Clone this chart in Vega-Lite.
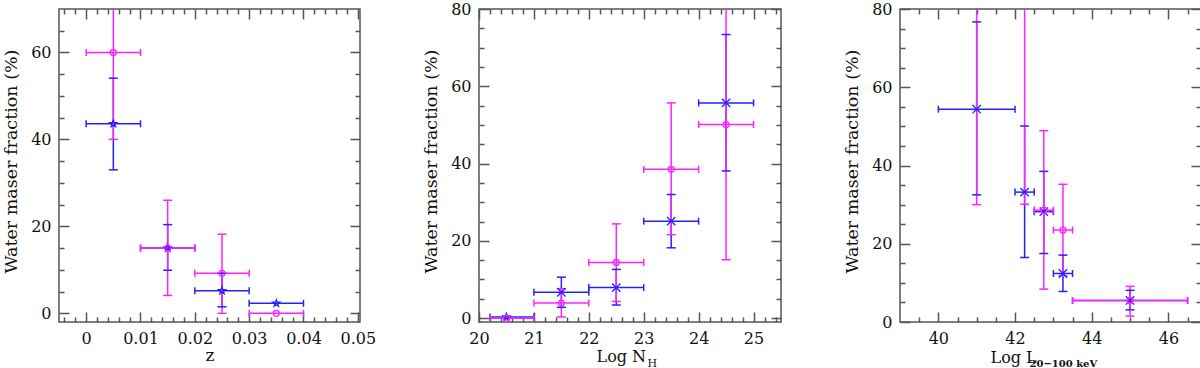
{
"$schema": "https://vega.github.io/schema/vega-lite/v6.json",
"autosize": {"type": "pad"},
"padding": {"left": 1, "top": 0, "right": 0, "bottom": 0},
"bounds": "flush",
"spacing": 119,
"background": "white",
"config": {
  "view": {"stroke": "#555", "strokeWidth": 1.5},
  "axis": {"domain": false, "grid": false, "tickColor": "#555", "tickWidth": 1.5, "labelFont": "DejaVu Serif", "labelFontSize": 16, "labelColor": "#111", "titleFont": "DejaVu Serif", "titleFontWeight": "normal", "titleColor": "#111", "labelFlush": false, "labelOverlap": false}
},
"datasets": {
  "p1": [
    {"series":"blue","marker":"star","x":0.005,"xlo":0,"xhi":0.01,"y":43.6,"ylo":33.0,"yhi":54.1},
    {"series":"blue","marker":"star","x":0.015,"xlo":0.01,"xhi":0.02,"y":15.0,"ylo":9.9,"yhi":20.4},
    {"series":"blue","marker":"star","x":0.025,"xlo":0.02,"xhi":0.03,"y":5.2,"ylo":1.5,"yhi":9.2},
    {"series":"blue","marker":"star","x":0.035,"xlo":0.03,"xhi":0.04,"y":2.3,"ylo":null,"yhi":null},
    {"series":"magenta","marker":"o","x":0.005,"xlo":0,"xhi":0.01,"y":60,"ylo":40,"yhi":78},
    {"series":"magenta","marker":"o","x":0.015,"xlo":0.01,"xhi":0.02,"y":15.0,"ylo":4.1,"yhi":26.0},
    {"series":"magenta","marker":"o","x":0.025,"xlo":0.02,"xhi":0.03,"y":9.2,"ylo":0,"yhi":18.2},
    {"series":"magenta","marker":"o","x":0.035,"xlo":0.03,"xhi":0.04,"y":0,"ylo":null,"yhi":null}
  ],
  "p2": [
    {"series":"blue","marker":"star","x":20.5,"xlo":20.2,"xhi":21,"y":0.3,"ylo":null,"yhi":null},
    {"series":"blue","marker":"x","x":21.5,"xlo":21,"xhi":22,"y":6.7,"ylo":2.8,"yhi":10.6},
    {"series":"blue","marker":"x","x":22.5,"xlo":22,"xhi":23,"y":7.9,"ylo":3.4,"yhi":12.6},
    {"series":"blue","marker":"x","x":23.5,"xlo":23,"xhi":24,"y":25.1,"ylo":18.2,"yhi":32.0},
    {"series":"blue","marker":"x","x":24.5,"xlo":24,"xhi":25,"y":55.7,"ylo":38.1,"yhi":73.4},
    {"series":"magenta","marker":"o","x":20.5,"xlo":20.2,"xhi":21,"y":0,"ylo":null,"yhi":null},
    {"series":"magenta","marker":"o","x":21.5,"xlo":21,"xhi":22,"y":3.9,"ylo":0.3,"yhi":7.6},
    {"series":"magenta","marker":"o","x":22.5,"xlo":22,"xhi":23,"y":14.4,"ylo":4.3,"yhi":24.4},
    {"series":"magenta","marker":"o","x":23.5,"xlo":23,"xhi":24,"y":38.5,"ylo":21.6,"yhi":55.7},
    {"series":"magenta","marker":"o","x":24.5,"xlo":24,"xhi":25,"y":50.1,"ylo":15.1,"yhi":90}
  ],
  "p3": [
    {"series":"blue","marker":"x","x":41,"xlo":40,"xhi":42,"y":54.4,"ylo":32.5,"yhi":76.7},
    {"series":"blue","marker":"x","x":42.25,"xlo":42,"xhi":42.5,"y":33.2,"ylo":16.5,"yhi":50.1},
    {"series":"blue","marker":"x","x":42.75,"xlo":42.5,"xhi":43,"y":28.2,"ylo":17.5,"yhi":38.5},
    {"series":"blue","marker":"x","x":43.25,"xlo":43,"xhi":43.5,"y":12.4,"ylo":7.8,"yhi":17.1},
    {"series":"blue","marker":"x","x":45,"xlo":43.5,"xhi":46.5,"y":5.5,"ylo":3.1,"yhi":8.1},
    {"series":"magenta","marker":"o","x":41,"xlo":40,"xhi":42,"y":100,"ylo":30.0,"yhi":100},
    {"series":"magenta","marker":"o","x":42.25,"xlo":42,"xhi":42.5,"y":100,"ylo":30.1,"yhi":100},
    {"series":"magenta","marker":"o","x":42.75,"xlo":42.5,"xhi":43,"y":28.6,"ylo":8.4,"yhi":48.9},
    {"series":"magenta","marker":"o","x":43.25,"xlo":43,"xhi":43.5,"y":23.5,"ylo":11.8,"yhi":35.2},
    {"series":"magenta","marker":"o","x":45,"xlo":43.5,"xhi":46.5,"y":5.5,"ylo":1.5,"yhi":9.1}
  ]
},
"hconcat": [
{
  "width": 301, "height": 313,
  "data": {"name": "p1"},
  "resolve": {"axis": {"x": "independent", "y": "independent"}},
  "layer": [
    {"mark": {"type": "rule", "strokeWidth": 1.5, "clip": true},
     "encoding": {
       "x": {"field": "xlo", "type": "quantitative", "scale": {"domain": [-0.005, 0.0504], "nice": false, "zero": false},
             "axis": {"orient": "bottom", "values": [0, 0.01, 0.02, 0.03, 0.04, 0.05], "format": "~g", "ticks": false, "labelPadding": 8, "title": "z", "titleFontSize": 17, "titleX": 150.5, "titleY": 38.5, "titleAlign": "center", "titleBaseline": "alphabetic"}},
       "x2": {"field": "xhi"},
       "y": {"field": "y", "type": "quantitative", "scale": {"domain": [-2, 70], "nice": false, "zero": false},
             "axis": {"orient": "left", "values": [0, 20, 40, 60], "ticks": false, "labelPadding": 8, "title": "Water maser fraction (%)", "titleFontSize": 17.5, "titleX": -42.5, "titleY": 152, "titleAngle": -90, "titleAlign": "center", "titleBaseline": "alphabetic"}},
       "color": {"field": "series", "type": "nominal", "scale": {"domain": ["blue", "magenta"], "range": ["#2222ff", "#ff22ff"]}, "legend": null}
     }},
    {"mark": {"type": "rule", "strokeWidth": 1.5, "clip": true},
     "encoding": {
       "x": {"field": "x", "type": "quantitative", "scale": {"domain": [-0.005, 0.0504], "nice": false, "zero": false},
             "axis": {"orient": "bottom", "values": [0, 0.01, 0.02, 0.03, 0.04, 0.05], "labels": false, "tickSize": -10, "title": null}},
       "y": {"field": "ylo", "type": "quantitative", "scale": {"domain": [-2, 70], "nice": false, "zero": false},
             "axis": {"orient": "left", "values": [0, 20, 40, 60], "labels": false, "tickSize": -10, "title": null}},
       "y2": {"field": "yhi"},
       "color": {"field": "series", "type": "nominal", "scale": {"domain": ["blue", "magenta"], "range": ["#2222ff", "#ff22ff"]}, "legend": null}
     }},
    {"mark": {"type": "tick", "orient": "vertical", "size": 7, "thickness": 1.5, "opacity": 1, "clip": true},
     "encoding": {
       "x": {"field": "xlo", "type": "quantitative", "scale": {"domain": [-0.005, 0.0504], "nice": false, "zero": false},
             "axis": {"orient": "top", "values": [0, 0.01, 0.02, 0.03, 0.04, 0.05], "labels": false, "tickSize": -10, "title": null}},
       "y": {"field": "y", "type": "quantitative", "scale": {"domain": [-2, 70], "nice": false, "zero": false},
             "axis": {"orient": "right", "values": [0, 20, 40, 60], "labels": false, "tickSize": -10, "title": null}},
       "color": {"field": "series", "type": "nominal", "scale": {"domain": ["blue", "magenta"], "range": ["#2222ff", "#ff22ff"]}, "legend": null}
     }},
    {"mark": {"type": "tick", "orient": "vertical", "size": 7, "thickness": 1.5, "opacity": 1, "clip": true},
     "encoding": {
       "x": {"field": "xhi", "type": "quantitative", "scale": {"domain": [-0.005, 0.0504], "nice": false, "zero": false},
             "axis": {"orient": "bottom", "values": [-0.004, -0.002, 0.002, 0.004, 0.006, 0.008, 0.012, 0.014, 0.016, 0.018, 0.022, 0.024, 0.026, 0.028, 0.032, 0.034, 0.036, 0.038, 0.042, 0.044, 0.046, 0.048], "labels": false, "tickSize": -5, "title": null}},
       "y": {"field": "y", "type": "quantitative", "scale": {"domain": [-2, 70], "nice": false, "zero": false},
             "axis": {"orient": "left", "values": [5, 10, 15, 25, 30, 35, 45, 50, 55, 65], "labels": false, "tickSize": -5, "title": null}},
       "color": {"field": "series", "type": "nominal", "scale": {"domain": ["blue", "magenta"], "range": ["#2222ff", "#ff22ff"]}, "legend": null}
     }},
    {"mark": {"type": "tick", "orient": "horizontal", "size": 9, "thickness": 1.5, "opacity": 1, "clip": true},
     "encoding": {
       "x": {"field": "x", "type": "quantitative", "scale": {"domain": [-0.005, 0.0504], "nice": false, "zero": false},
             "axis": {"orient": "top", "values": [-0.004, -0.002, 0.002, 0.004, 0.006, 0.008, 0.012, 0.014, 0.016, 0.018, 0.022, 0.024, 0.026, 0.028, 0.032, 0.034, 0.036, 0.038, 0.042, 0.044, 0.046, 0.048], "labels": false, "tickSize": -5, "title": null}},
       "y": {"field": "ylo", "type": "quantitative", "scale": {"domain": [-2, 70], "nice": false, "zero": false},
             "axis": {"orient": "right", "values": [5, 10, 15, 25, 30, 35, 45, 50, 55, 65], "labels": false, "tickSize": -5, "title": null}},
       "color": {"field": "series", "type": "nominal", "scale": {"domain": ["blue", "magenta"], "range": ["#2222ff", "#ff22ff"]}, "legend": null}
     }},
    {"mark": {"type": "tick", "orient": "horizontal", "size": 9, "thickness": 1.5, "opacity": 1, "clip": true},
     "encoding": {
       "x": {"field": "x", "type": "quantitative", "scale": {"domain": [-0.005, 0.0504], "nice": false, "zero": false}, "axis": null},
       "y": {"field": "yhi", "type": "quantitative", "scale": {"domain": [-2, 70], "nice": false, "zero": false}, "axis": null},
       "color": {"field": "series", "type": "nominal", "scale": {"domain": ["blue", "magenta"], "range": ["#2222ff", "#ff22ff"]}, "legend": null}
     }},
    {"mark": {"type": "point", "filled": false, "strokeWidth": 1.3, "opacity": 1, "clip": true},
     "encoding": {
       "x": {"field": "x", "type": "quantitative", "scale": {"domain": [-0.005, 0.0504], "nice": false, "zero": false}, "axis": null},
       "y": {"field": "y", "type": "quantitative", "scale": {"domain": [-2, 70], "nice": false, "zero": false}, "axis": null},
       "color": {"field": "series", "type": "nominal", "scale": {"domain": ["blue", "magenta"], "range": ["#2222ff", "#ff22ff"]}, "legend": null},
       "shape": {"field": "marker", "type": "nominal", "scale": {"domain": ["o", "star", "x"], "range": ["circle", "M0,-1L0.235,-0.324L0.951,-0.309L0.38,0.124L0.588,0.809L0,0.4L-0.588,0.809L-0.38,0.124L-0.951,-0.309L-0.235,-0.324Z", "M-1,-1L1,1M-1,1L1,-1"]}, "legend": null},
       "size": {"field": "marker", "type": "ordinal", "scale": {"domain": ["o", "star", "x"], "range": [36, 70, 60]}, "legend": null}
     }}
  ]
},
{
  "width": 302, "height": 313,
  "data": {"name": "p2"},
  "resolve": {"axis": {"x": "independent", "y": "independent"}},
  "layer": [
    {"mark": {"type": "rule", "strokeWidth": 1.5, "clip": true},
     "encoding": {
       "x": {"field": "xlo", "type": "quantitative", "scale": {"domain": [20, 25.5], "nice": false, "zero": false},
             "axis": {"orient": "bottom", "values": [20, 21, 22, 23, 24, 25], "ticks": false, "labelPadding": 8, "title": "Log N", "titleFontSize": 16, "titleX": 117, "titleY": 39, "titleAlign": "left", "titleBaseline": "alphabetic"}},
       "x2": {"field": "xhi"},
       "y": {"field": "y", "type": "quantitative", "scale": {"domain": [-1, 80], "nice": false, "zero": false},
             "axis": {"orient": "left", "values": [0, 20, 40, 60, 80], "ticks": false, "labelPadding": 8, "title": "Water maser fraction (%)", "titleFontSize": 17.5, "titleX": -42.5, "titleY": 152, "titleAngle": -90, "titleAlign": "center", "titleBaseline": "alphabetic"}},
       "color": {"field": "series", "type": "nominal", "scale": {"domain": ["blue", "magenta"], "range": ["#2222ff", "#ff22ff"]}, "legend": null}
     }},
    {"mark": {"type": "rule", "strokeWidth": 1.5, "clip": true},
     "encoding": {
       "x": {"field": "x", "type": "quantitative", "scale": {"domain": [20, 25.5], "nice": false, "zero": false},
             "axis": {"orient": "bottom", "values": [20, 21, 22, 23, 24, 25], "labels": false, "tickSize": -10, "title": "H", "titleFontSize": 11, "titleX": 168, "titleY": 44, "titleAlign": "left", "titleBaseline": "alphabetic"}},
       "y": {"field": "ylo", "type": "quantitative", "scale": {"domain": [-1, 80], "nice": false, "zero": false},
             "axis": {"orient": "left", "values": [0, 20, 40, 60, 80], "labels": false, "tickSize": -10, "title": null}},
       "y2": {"field": "yhi"},
       "color": {"field": "series", "type": "nominal", "scale": {"domain": ["blue", "magenta"], "range": ["#2222ff", "#ff22ff"]}, "legend": null}
     }},
    {"mark": {"type": "tick", "orient": "vertical", "size": 7, "thickness": 1.5, "opacity": 1, "clip": true},
     "encoding": {
       "x": {"field": "xlo", "type": "quantitative", "scale": {"domain": [20, 25.5], "nice": false, "zero": false},
             "axis": {"orient": "top", "values": [20, 21, 22, 23, 24, 25], "labels": false, "tickSize": -10, "title": null}},
       "y": {"field": "y", "type": "quantitative", "scale": {"domain": [-1, 80], "nice": false, "zero": false},
             "axis": {"orient": "right", "values": [0, 20, 40, 60, 80], "labels": false, "tickSize": -10, "title": null}},
       "color": {"field": "series", "type": "nominal", "scale": {"domain": ["blue", "magenta"], "range": ["#2222ff", "#ff22ff"]}, "legend": null}
     }},
    {"mark": {"type": "tick", "orient": "vertical", "size": 7, "thickness": 1.5, "opacity": 1, "clip": true},
     "encoding": {
       "x": {"field": "xhi", "type": "quantitative", "scale": {"domain": [20, 25.5], "nice": false, "zero": false},
             "axis": {"orient": "bottom", "values": [20.2, 20.4, 20.6, 20.8, 21.2, 21.4, 21.6, 21.8, 22.2, 22.4, 22.6, 22.8, 23.2, 23.4, 23.6, 23.8, 24.2, 24.4, 24.6, 24.8, 25.2, 25.4], "labels": false, "tickSize": -5, "title": null}},
       "y": {"field": "y", "type": "quantitative", "scale": {"domain": [-1, 80], "nice": false, "zero": false},
             "axis": {"orient": "left", "values": [5, 10, 15, 25, 30, 35, 45, 50, 55, 65, 70, 75], "labels": false, "tickSize": -5, "title": null}},
       "color": {"field": "series", "type": "nominal", "scale": {"domain": ["blue", "magenta"], "range": ["#2222ff", "#ff22ff"]}, "legend": null}
     }},
    {"mark": {"type": "tick", "orient": "horizontal", "size": 9, "thickness": 1.5, "opacity": 1, "clip": true},
     "encoding": {
       "x": {"field": "x", "type": "quantitative", "scale": {"domain": [20, 25.5], "nice": false, "zero": false},
             "axis": {"orient": "top", "values": [20.2, 20.4, 20.6, 20.8, 21.2, 21.4, 21.6, 21.8, 22.2, 22.4, 22.6, 22.8, 23.2, 23.4, 23.6, 23.8, 24.2, 24.4, 24.6, 24.8, 25.2, 25.4], "labels": false, "tickSize": -5, "title": null}},
       "y": {"field": "ylo", "type": "quantitative", "scale": {"domain": [-1, 80], "nice": false, "zero": false},
             "axis": {"orient": "right", "values": [5, 10, 15, 25, 30, 35, 45, 50, 55, 65, 70, 75], "labels": false, "tickSize": -5, "title": null}},
       "color": {"field": "series", "type": "nominal", "scale": {"domain": ["blue", "magenta"], "range": ["#2222ff", "#ff22ff"]}, "legend": null}
     }},
    {"mark": {"type": "tick", "orient": "horizontal", "size": 9, "thickness": 1.5, "opacity": 1, "clip": true},
     "encoding": {
       "x": {"field": "x", "type": "quantitative", "scale": {"domain": [20, 25.5], "nice": false, "zero": false}, "axis": null},
       "y": {"field": "yhi", "type": "quantitative", "scale": {"domain": [-1, 80], "nice": false, "zero": false}, "axis": null},
       "color": {"field": "series", "type": "nominal", "scale": {"domain": ["blue", "magenta"], "range": ["#2222ff", "#ff22ff"]}, "legend": null}
     }},
    {"mark": {"type": "point", "filled": false, "strokeWidth": 1.3, "opacity": 1, "clip": true},
     "encoding": {
       "x": {"field": "x", "type": "quantitative", "scale": {"domain": [20, 25.5], "nice": false, "zero": false}, "axis": null},
       "y": {"field": "y", "type": "quantitative", "scale": {"domain": [-1, 80], "nice": false, "zero": false}, "axis": null},
       "color": {"field": "series", "type": "nominal", "scale": {"domain": ["blue", "magenta"], "range": ["#2222ff", "#ff22ff"]}, "legend": null},
       "shape": {"field": "marker", "type": "nominal", "scale": {"domain": ["o", "star", "x"], "range": ["circle", "M0,-1L0.235,-0.324L0.951,-0.309L0.38,0.124L0.588,0.809L0,0.4L-0.588,0.809L-0.38,0.124L-0.951,-0.309L-0.235,-0.324Z", "M-1,-1L1,1M-1,1L1,-1"]}, "legend": null},
       "size": {"field": "marker", "type": "ordinal", "scale": {"domain": ["o", "star", "x"], "range": [36, 70, 60]}, "legend": null}
     }}
  ]
},
{
  "width": 301, "height": 313,
  "data": {"name": "p3"},
  "resolve": {"axis": {"x": "independent", "y": "independent"}},
  "layer": [
    {"mark": {"type": "rule", "strokeWidth": 1.5, "clip": true},
     "encoding": {
       "x": {"field": "xlo", "type": "quantitative", "scale": {"domain": [39, 46.85], "nice": false, "zero": false},
             "axis": {"orient": "bottom", "values": [40, 42, 44, 46], "ticks": false, "labelPadding": 8, "title": "Log L", "titleFontSize": 16, "titleX": 90, "titleY": 40, "titleAlign": "left", "titleBaseline": "alphabetic"}},
       "x2": {"field": "xhi"},
       "y": {"field": "y", "type": "quantitative", "scale": {"domain": [0, 80], "nice": false, "zero": false},
             "axis": {"orient": "left", "values": [0, 20, 40, 60, 80], "ticks": false, "labelPadding": 8, "title": "Water maser fraction (%)", "titleFontSize": 17.5, "titleX": -43, "titleY": 152, "titleAngle": -90, "titleAlign": "center", "titleBaseline": "alphabetic"}},
       "color": {"field": "series", "type": "nominal", "scale": {"domain": ["blue", "magenta"], "range": ["#2222ff", "#ff22ff"]}, "legend": null}
     }},
    {"mark": {"type": "rule", "strokeWidth": 1.5, "clip": true},
     "encoding": {
       "x": {"field": "x", "type": "quantitative", "scale": {"domain": [39, 46.85], "nice": false, "zero": false},
             "axis": {"orient": "bottom", "values": [40, 42, 44, 46], "labels": false, "tickSize": -10, "title": "20−100 keV", "titleFontSize": 10, "titleFontWeight": "bold", "titleX": 129, "titleY": 44.5, "titleAlign": "left", "titleBaseline": "alphabetic"}},
       "y": {"field": "ylo", "type": "quantitative", "scale": {"domain": [0, 80], "nice": false, "zero": false},
             "axis": {"orient": "left", "values": [0, 20, 40, 60, 80], "labels": false, "tickSize": -10, "title": null}},
       "y2": {"field": "yhi"},
       "color": {"field": "series", "type": "nominal", "scale": {"domain": ["blue", "magenta"], "range": ["#2222ff", "#ff22ff"]}, "legend": null}
     }},
    {"mark": {"type": "tick", "orient": "vertical", "size": 7, "thickness": 1.5, "opacity": 1, "clip": true},
     "encoding": {
       "x": {"field": "xlo", "type": "quantitative", "scale": {"domain": [39, 46.85], "nice": false, "zero": false},
             "axis": {"orient": "top", "values": [40, 42, 44, 46], "labels": false, "tickSize": -10, "title": null}},
       "y": {"field": "y", "type": "quantitative", "scale": {"domain": [0, 80], "nice": false, "zero": false},
             "axis": {"orient": "right", "values": [0, 20, 40, 60, 80], "labels": false, "tickSize": -10, "title": null}},
       "color": {"field": "series", "type": "nominal", "scale": {"domain": ["blue", "magenta"], "range": ["#2222ff", "#ff22ff"]}, "legend": null}
     }},
    {"mark": {"type": "tick", "orient": "vertical", "size": 7, "thickness": 1.5, "opacity": 1, "clip": true},
     "encoding": {
       "x": {"field": "xhi", "type": "quantitative", "scale": {"domain": [39, 46.85], "nice": false, "zero": false},
             "axis": {"orient": "bottom", "values": [39.5, 40.5, 41, 41.5, 42.5, 43, 43.5, 44.5, 45, 45.5, 46.5], "labels": false, "tickSize": -5, "title": null}},
       "y": {"field": "y", "type": "quantitative", "scale": {"domain": [0, 80], "nice": false, "zero": false},
             "axis": {"orient": "left", "values": [5, 10, 15, 25, 30, 35, 45, 50, 55, 65, 70, 75], "labels": false, "tickSize": -5, "title": null}},
       "color": {"field": "series", "type": "nominal", "scale": {"domain": ["blue", "magenta"], "range": ["#2222ff", "#ff22ff"]}, "legend": null}
     }},
    {"mark": {"type": "tick", "orient": "horizontal", "size": 9, "thickness": 1.5, "opacity": 1, "clip": true},
     "encoding": {
       "x": {"field": "x", "type": "quantitative", "scale": {"domain": [39, 46.85], "nice": false, "zero": false},
             "axis": {"orient": "top", "values": [39.5, 40.5, 41, 41.5, 42.5, 43, 43.5, 44.5, 45, 45.5, 46.5], "labels": false, "tickSize": -5, "title": null}},
       "y": {"field": "ylo", "type": "quantitative", "scale": {"domain": [0, 80], "nice": false, "zero": false},
             "axis": {"orient": "right", "values": [5, 10, 15, 25, 30, 35, 45, 50, 55, 65, 70, 75], "labels": false, "tickSize": -5, "title": null}},
       "color": {"field": "series", "type": "nominal", "scale": {"domain": ["blue", "magenta"], "range": ["#2222ff", "#ff22ff"]}, "legend": null}
     }},
    {"mark": {"type": "tick", "orient": "horizontal", "size": 9, "thickness": 1.5, "opacity": 1, "clip": true},
     "encoding": {
       "x": {"field": "x", "type": "quantitative", "scale": {"domain": [39, 46.85], "nice": false, "zero": false}, "axis": null},
       "y": {"field": "yhi", "type": "quantitative", "scale": {"domain": [0, 80], "nice": false, "zero": false}, "axis": null},
       "color": {"field": "series", "type": "nominal", "scale": {"domain": ["blue", "magenta"], "range": ["#2222ff", "#ff22ff"]}, "legend": null}
     }},
    {"mark": {"type": "point", "filled": false, "strokeWidth": 1.3, "opacity": 1, "clip": true},
     "encoding": {
       "x": {"field": "x", "type": "quantitative", "scale": {"domain": [39, 46.85], "nice": false, "zero": false}, "axis": null},
       "y": {"field": "y", "type": "quantitative", "scale": {"domain": [0, 80], "nice": false, "zero": false}, "axis": null},
       "color": {"field": "series", "type": "nominal", "scale": {"domain": ["blue", "magenta"], "range": ["#2222ff", "#ff22ff"]}, "legend": null},
       "shape": {"field": "marker", "type": "nominal", "scale": {"domain": ["o", "star", "x"], "range": ["circle", "M0,-1L0.235,-0.324L0.951,-0.309L0.38,0.124L0.588,0.809L0,0.4L-0.588,0.809L-0.38,0.124L-0.951,-0.309L-0.235,-0.324Z", "M-1,-1L1,1M-1,1L1,-1"]}, "legend": null},
       "size": {"field": "marker", "type": "ordinal", "scale": {"domain": ["o", "star", "x"], "range": [36, 70, 60]}, "legend": null}
     }}
  ]
}
]
}
